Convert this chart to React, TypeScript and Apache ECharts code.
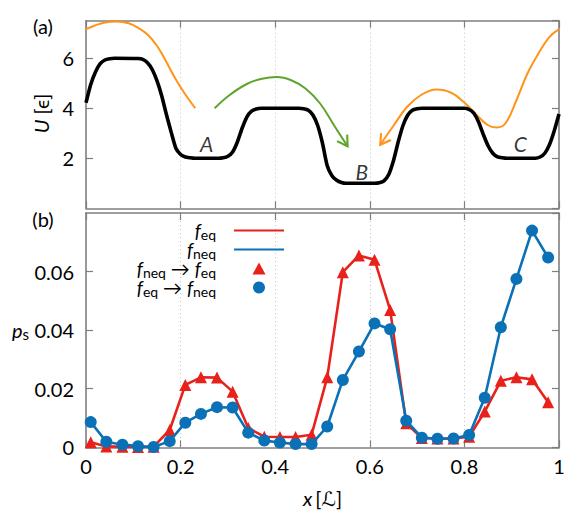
import React, { useEffect, useRef } from "react";
import * as echarts from "echarts";

const FONT = "Lato, 'DejaVu Sans', sans-serif";

// ---- top panel: potential U(x)
const potX = [0, 0.01, 0.02, 0.03, 0.04, 0.05, 0.06, 0.11, 0.12, 0.13, 0.14, 0.15, 0.16, 0.17, 0.18, 0.19, 0.2, 0.21, 0.22, 0.23, 0.28, 0.29, 0.3, 0.31, 0.32, 0.33, 0.34, 0.35, 0.36, 0.37, 0.45, 0.46, 0.47, 0.48, 0.49, 0.5, 0.51, 0.52, 0.53, 0.54, 0.55, 0.61, 0.62, 0.63, 0.64, 0.65, 0.66, 0.67, 0.68, 0.69, 0.7, 0.71, 0.8, 0.81, 0.82, 0.83, 0.84, 0.85, 0.86, 0.87, 0.88, 0.89, 0.95, 0.96, 0.97, 0.98, 0.99, 1.0];
const potY = [4.22, 4.95, 5.45, 5.78, 5.93, 5.98, 6.0, 5.99, 5.95, 5.82, 5.55, 5.1, 4.5, 3.75, 3.05, 2.4, 2.15, 2.05, 2.02, 2.0, 2.0, 2.02, 2.08, 2.25, 2.65, 3.2, 3.65, 3.88, 3.97, 4.0, 4.0, 3.98, 3.92, 3.72, 3.3, 2.6, 1.7, 1.3, 1.12, 1.03, 1.0, 1.0, 1.02, 1.1, 1.35, 1.9, 2.65, 3.3, 3.72, 3.92, 3.98, 4.0, 4.0, 3.95, 3.8, 3.45, 2.95, 2.5, 2.2, 2.06, 2.02, 2.0, 2.0, 2.05, 2.2, 2.55, 3.1, 3.77];

const orangeLX = [0, 0.02, 0.04, 0.065, 0.09, 0.11, 0.13, 0.15, 0.17, 0.19, 0.21, 0.231];
const orangeLY = [7.16, 7.32, 7.43, 7.47, 7.4, 7.22, 6.95, 6.5, 5.85, 5.15, 4.55, 4.0];

const orangeRX = [0.622, 0.649, 0.679, 0.71, 0.741, 0.772, 0.802, 0.826, 0.849, 0.868, 0.887, 0.91, 0.933, 0.956, 0.979, 1.0];
const orangeRY = [2.54, 3.27, 4.06, 4.55, 4.75, 4.62, 4.19, 3.73, 3.33, 3.23, 3.4, 4.32, 5.38, 6.17, 6.83, 7.16];

const greenX = [0.272, 0.303, 0.341, 0.372, 0.403, 0.434, 0.464, 0.495, 0.526, 0.553];
const greenY = [4.0, 4.52, 4.98, 5.18, 5.25, 5.12, 4.79, 4.19, 3.27, 2.48];

const wellNames = ["A", "B", "C"];
const wellX = [0.255, 0.583, 0.918];
const wellY = [2.61, 1.49, 2.61];

// ---- bottom panel: p_s
const xs = [0.01, 0.043, 0.077, 0.11, 0.143, 0.177, 0.21, 0.243, 0.277, 0.31, 0.343, 0.377, 0.41, 0.443, 0.477, 0.51, 0.543, 0.577, 0.61, 0.643, 0.677, 0.71, 0.743, 0.777, 0.81, 0.843, 0.877, 0.91, 0.943, 0.977];
const feq = [0.0017, 0.0003, 0.0002, 0.0001, 0.0002, 0.0059, 0.0213, 0.0239, 0.0238, 0.019, 0.0066, 0.0036, 0.0035, 0.0035, 0.0043, 0.0239, 0.0598, 0.0655, 0.064, 0.0469, 0.0082, 0.0032, 0.003, 0.003, 0.0036, 0.0122, 0.0227, 0.0239, 0.0232, 0.0154];
const fneq = [0.0086, 0.0019, 0.0009, 0.0004, 0.0001, 0.0021, 0.0084, 0.0114, 0.0137, 0.0136, 0.005, 0.0023, 0.0016, 0.0011, 0.0011, 0.0071, 0.023, 0.0327, 0.0423, 0.0403, 0.0091, 0.0033, 0.0029, 0.003, 0.0042, 0.0169, 0.041, 0.0575, 0.074, 0.0648];

const xTicks = [0, 0.2, 0.4, 0.6, 0.8, 1];

const RED = "#e8211b";
const BLUE = "#0b71b6";
const ORANGE = "#ff9419";
const GREEN = "#5fa42a";
const AXIS = "#7f7f7f";

const zip = (a: number[], b: number[]) => a.map((v, i) => [v, b[i]]);

const richStyles = {
  i: { fontStyle: "italic", fontSize: 20, fontFamily: FONT, color: "#000", lineHeight: 18 },
  n: { fontSize: 20, fontFamily: FONT, color: "#000", lineHeight: 18 },
  s: { fontSize: 15, fontFamily: FONT, color: "#000", lineHeight: 9, padding: [8, 0, 0, 0] },
  g: { width: 12, lineHeight: 18 },
};

const legendRich = {
  i: { fontStyle: "italic", fontSize: 19, fontFamily: FONT, color: "#000", lineHeight: 17 },
  n: { fontSize: 19, fontFamily: FONT, color: "#000", lineHeight: 17 },
  s: { fontSize: 14, fontFamily: FONT, color: "#000", lineHeight: 8, padding: [7, 0, 0, 0] },
  g: { width: 13, lineHeight: 17 },
};

const gRich = {
  i: { fontStyle: "italic", fontSize: 20, fontFamily: FONT, fill: "#000" },
  n: { fontSize: 20, fontFamily: FONT, fill: "#000" },
};

const legendText: Record<string, string> = {
  feq: "{i|f}{s|eq}{g|}",
  fneq: "{i|f}{s|neq}{g|}",
  "fneq→feq": "{i|f}{s|neq}{n| → }{i|f}{s|eq}{g|}",
  "feq→fneq": "{i|f}{s|eq}{n| → }{i|f}{s|neq}{g|}",
};

function makeAxisX(gridIndex: number, position: string, labels: boolean, split: boolean) {
  return {
    type: "value",
    gridIndex,
    position,
    min: 0,
    max: 1,
    interval: 0.2,
    axisLine: { show: true, onZero: false, lineStyle: { color: AXIS, width: 1.6 } },
    axisTick: { show: true, inside: true, length: 7, lineStyle: { color: AXIS, width: 1.2 } },
    axisLabel: {
      show: labels,
      fontSize: 20,
      fontFamily: FONT,
      color: "#000",
      margin: 9,
      formatter: (v: number) => {
        const t = xTicks.find((x) => Math.abs(x - v) < 1e-6);
        return t === undefined ? "" : String(t);
      },
    },
    splitLine: {
      show: split,
      showMinLine: false,
      showMaxLine: false,
      lineStyle: { color: "#c4c4c4", width: 1, type: [1, 3] },
    },
  };
}

function makeAxisY(gridIndex: number, position: string, min: number, max: number, interval: number, labels: boolean, fmt?: (v: number) => string) {
  return {
    type: "value",
    gridIndex,
    position,
    min,
    max,
    interval,
    axisLine: { show: true, onZero: false, lineStyle: { color: AXIS, width: 1.6 } },
    axisTick: { show: true, inside: true, length: 7, lineStyle: { color: AXIS, width: 1.2 } },
    axisLabel: {
      show: labels,
      showMinLabel: gridIndex === 1,
      showMaxLabel: false,
      fontSize: 20,
      fontFamily: FONT,
      color: "#000",
      margin: 12,
      formatter: fmt,
    },
    splitLine: { show: false },
  };
}

export default function App() {
  const ref = useRef<HTMLDivElement>(null);
  useEffect(() => {
    const chart = echarts.init(ref.current!, undefined, { renderer: "svg" });
    const topY0 = makeAxisY(0, "left", 0, 7.5, 2, true, (v: number) => String(v)) as any;
    const botY0 = makeAxisY(1, "left", 0, 0.08, 0.02, true, (v: number) => (v === 0 ? "0" : v.toFixed(2))) as any;
    botY0.name = "{i|p}{s|s}";
    botY0.nameLocation = "middle";
    botY0.nameRotate = 0;
    botY0.nameGap = 57;
    botY0.nameMoveOverlap = false;
    botY0.nameTextStyle = { rich: richStyles };
    const botX0 = makeAxisX(1, "bottom", true, true) as any;
    botX0.name = "{i|x} {n|[ℒ]}";
    botX0.nameLocation = "middle";
    botX0.nameGap = 42;
    botX0.nameMoveOverlap = false;
    botX0.nameTextStyle = { rich: richStyles };

    const hideDot = { color: "rgba(0,0,0,0)", opacity: 0, borderWidth: 0 };

    const option: any = {
      animation: false,
      backgroundColor: "#fff",
      textStyle: { fontFamily: FONT },
      grid: [
        { left: 86, top: 20.7, width: 473, height: 187.6 },
        { left: 86, top: 213, width: 473, height: 234.3 },
      ],
      xAxis: [
        makeAxisX(0, "bottom", false, true),
        makeAxisX(0, "top", false, false),
        botX0,
        makeAxisX(1, "top", false, false),
      ],
      yAxis: [
        topY0,
        makeAxisY(0, "right", 0, 7.5, 2, false),
        botY0,
        makeAxisY(1, "right", 0, 0.08, 0.02, false),
      ],
      legend: {
        orient: "vertical",
        right: 284,
        top: 220,
        padding: 0,
        align: "right",
        itemWidth: 50,
        itemHeight: 12,
        itemGap: -2,
        selectedMode: false,
        data: [
          { name: "feq", itemStyle: hideDot },
          { name: "fneq", itemStyle: hideDot },
          { name: "fneq→feq", icon: "path://M6,0 L12,11 L0,11 Z" },
          { name: "feq→fneq", icon: "circle" },
        ],
        formatter: (name: string) => legendText[name],
        textStyle: { fontSize: 19, fontFamily: FONT, color: "#000", rich: legendRich },
      },
      graphic: [
        { type: "text", x: 43, y: 26, style: { text: "(a)", fontSize: 20, fontFamily: FONT, fill: "#000", align: "center", verticalAlign: "middle" } },
        { type: "text", x: 43, y: 219, style: { text: "(b)", fontSize: 20, fontFamily: FONT, fill: "#000", align: "center", verticalAlign: "middle" } },
        {
          type: "text", x: 41, y: 113.5, rotation: Math.PI / 2,
          style: { text: "{i|U} {n|[ϵ]}", rich: gRich, fontSize: 20, fontFamily: FONT, fill: "#000", align: "center", verticalAlign: "middle" },
        },
      ],
      series: [
        {
          name: "U", type: "line", xAxisIndex: 0, yAxisIndex: 0, data: zip(potX, potY),
          symbol: "none", smooth: 0.2, lineStyle: { color: "#000", width: 3.6 }, z: 3,
        },
        {
          name: "orangeL", type: "line", xAxisIndex: 0, yAxisIndex: 0, data: zip(orangeLX, orangeLY),
          symbol: "none", smooth: 0.4, lineStyle: { color: ORANGE, width: 2 }, z: 2,
        },
        {
          name: "orangeR", type: "line", xAxisIndex: 0, yAxisIndex: 0, data: zip(orangeRX, orangeRY),
          symbol: "none", smooth: 0.4, lineStyle: { color: ORANGE, width: 2 }, z: 2,
        },
        {
          name: "green", type: "line", xAxisIndex: 0, yAxisIndex: 0, data: zip(greenX, greenY),
          symbol: "none", smooth: 0.4, lineStyle: { color: GREEN, width: 2 }, z: 2,
        },
        {
          name: "arrows", type: "scatter", xAxisIndex: 0, yAxisIndex: 0,
          symbol: "path://M0,0 L6,10 L12,0", symbolSize: [12, 10],
          data: [
            {
              value: [greenX[greenX.length - 1], greenY[greenY.length - 1]],
              symbolRotate: 33, symbolOffset: [-2.7, -4.2],
              itemStyle: { color: "none", borderColor: GREEN, borderWidth: 2, opacity: 1 },
            },
            {
              value: [orangeRX[0], orangeRY[0]],
              symbolRotate: -35, symbolOffset: [2.9, -4.1],
              itemStyle: { color: "none", borderColor: ORANGE, borderWidth: 2, opacity: 1 },
            },
          ],
          z: 2,
        },
        {
          name: "wells", type: "scatter", xAxisIndex: 0, yAxisIndex: 0,
          symbolSize: 1, itemStyle: { color: "rgba(0,0,0,0)" },
          data: zip(wellX, wellY),
          label: {
            show: true, position: "inside", color: "#000", fontSize: 21, fontStyle: "italic", fontFamily: FONT,
            formatter: (p: any) => wellNames[p.dataIndex],
          },
          z: 4,
        },
        {
          name: "feq", type: "line", xAxisIndex: 2, yAxisIndex: 2, data: zip(xs, feq),
          symbol: "none", lineStyle: { color: RED, width: 2.6 }, itemStyle: { color: RED }, z: 2,
        },
        {
          name: "fneq→feq", type: "scatter", xAxisIndex: 2, yAxisIndex: 2, data: zip(xs, feq),
          symbol: "triangle", symbolSize: 12, itemStyle: { color: RED, opacity: 1 }, z: 3,
        },
        {
          name: "fneq", type: "line", xAxisIndex: 2, yAxisIndex: 2, data: zip(xs, fneq),
          symbol: "none", lineStyle: { color: BLUE, width: 2.6 }, itemStyle: { color: BLUE }, z: 4,
        },
        {
          name: "feq→fneq", type: "scatter", xAxisIndex: 2, yAxisIndex: 2, data: zip(xs, fneq),
          symbol: "circle", symbolSize: 12, itemStyle: { color: BLUE, opacity: 1 }, z: 5,
        },
      ],
    };
    chart.setOption(option);
    return () => chart.dispose();
  }, []);
  return <div ref={ref} style={{ position: "fixed", left: 0, top: 0, width: 569, height: 525 }} />;
}
